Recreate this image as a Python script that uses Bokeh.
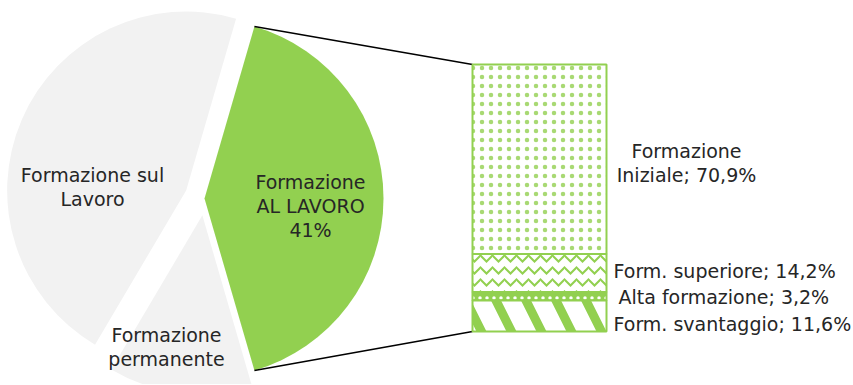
import math
from bokeh.plotting import figure
from bokeh.models import Range1d
from bokeh.core.properties import value
from bokeh.embed import file_html
from bokeh.resources import INLINE

# ---- data ----
pie_labels = ["Formazione\nAL LAVORO", "Formazione sul\nLavoro", "Formazione\npermanente"]
pie_values = [41, 46, 13]
bar_labels = ["Formazione\nIniziale", "Form. superiore", "Alta formazione", "Form. svantaggio"]
bar_values = [70.9, 14.2, 3.2, 11.6]

# ---- styles / layout ----
GREEN = "#92D050"
GRAY = "#F2F2F2"
TEXT = "#262626"
FONT = "DejaVu Sans"
FS = "19px"
LINE_H = 24

W, H = 852, 384
cx, cy, R = 204, -198, 179
explode = [0, 20, 17]
pie_colors = [GREEN, GRAY, GRAY]
pie_label_pos = [(310, -205), (92, -186), (166, -346)]

bar_left, bar_right, bar_top, bar_h = 472, 606, -64, 267
bar_fill = ["white", "white", GREEN, "white"]
bar_hatch = ["dot", "horizontal_wave", "dot", "left_diagonal_line"]
bar_hatch_color = [GREEN, GREEN, "white", GREEN]
bar_hatch_scale = [9, 12, 7, 60]
bar_hatch_weight = [1, 2, 1, 9]
bar_hatch_alpha = [0.8, 1, 1, 1]
bar_label_pos = [(686, -162, "center"), (613, -270, "left"), (618, -296, "left"), (613, -323, "left")]

p = figure(width=W, height=H, output_backend="svg", toolbar_location=None,
           x_range=Range1d(0, W), y_range=Range1d(-H, 0),
           x_axis_type=None, y_axis_type=None, min_border=0)
p.grid.visible = False
p.outline_line_color = None
p.background_fill_color = "white"
p.border_fill_color = "white"

# ---- pie ----
half = pie_values[0] / 100 * 360 / 2
start = -half
green_center = None
for i, v in enumerate(pie_values):
    span = v / 100 * 360
    a0 = start
    a1 = start + span
    mid = math.radians((a0 + a1) / 2)
    x0 = cx + explode[i] * math.cos(mid)
    y0 = cy + explode[i] * math.sin(mid)
    if i == 0:
        green_center = (x0, y0)
    p.wedge(x=[x0], y=[y0], radius=R, start_angle=math.radians(a0), end_angle=math.radians(a1),
            fill_color=pie_colors[i], line_color=None)
    start = a1

# ---- connector lines ----
gx, gy = green_center
ht = math.radians(half)
top_pt = (gx + R * math.cos(ht), gy + R * math.sin(ht))
bot_pt = (gx + R * math.cos(-ht), gy + R * math.sin(-ht))
total = sum(bar_values)
p.segment(x0=[top_pt[0], bot_pt[0]], y0=[top_pt[1], bot_pt[1]],
          x1=[bar_left, bar_left], y1=[bar_top, bar_top - bar_h],
          line_color="black", line_width=1.5)

# ---- bar ----
cum = 0
for i, v in enumerate(bar_values):
    t = bar_top - bar_h * cum / total
    b = bar_top - bar_h * (cum + v) / total
    p.quad(left=[bar_left], right=[bar_right], top=[t], bottom=[b],
           fill_color=bar_fill[i], line_color=GREEN, line_width=2,
           hatch_pattern=bar_hatch[i], hatch_color=bar_hatch_color[i],
           hatch_scale=bar_hatch_scale[i], hatch_weight=bar_hatch_weight[i],
           hatch_alpha=bar_hatch_alpha[i])
    cum += v

# ---- labels ----
def draw_label(txt, x, y, align):
    lines = txt.split("\n")
    n = len(lines)
    ys = [y + LINE_H * ((n - 1) / 2 - k) for k in range(n)]
    p.text(x=[x] * n, y=ys, text=lines, text_align=align, text_baseline="middle",
           text_font=value(FONT), text_font_size=FS, text_color=TEXT)

for i, lab in enumerate(pie_labels):
    txt = lab + ("\n%d%%" % pie_values[i] if i == 0 else "")
    x, y = pie_label_pos[i]
    draw_label(txt, x, y, "center")

for i, lab in enumerate(bar_labels):
    txt = lab + "; " + ("%.1f" % bar_values[i]).replace(".", ",") + "%"
    x, y, al = bar_label_pos[i]
    draw_label(txt, x, y, al)

open("out.html", "w").write(file_html(p, INLINE))
